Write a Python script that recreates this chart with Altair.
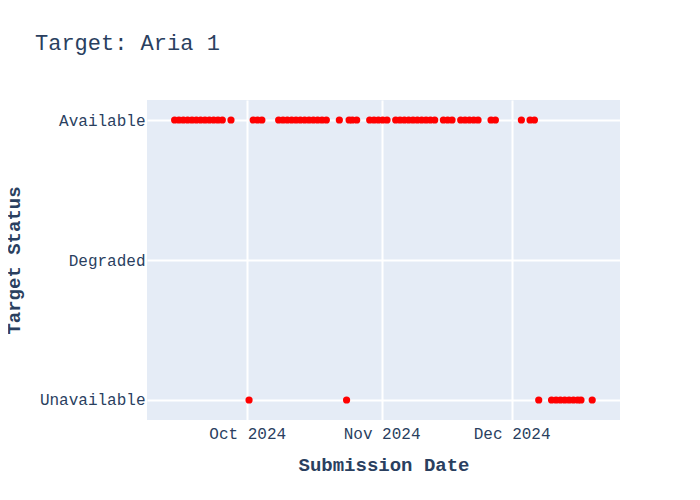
import altair as alt
import pandas as pd

statuses = ["Available", "Degraded", "Unavailable"]

available_dates = [
    "2024-09-14 06:00", "2024-09-15 06:00", "2024-09-16 06:00", "2024-09-17 06:00",
    "2024-09-18 06:00", "2024-09-19 06:00", "2024-09-20 06:00", "2024-09-21 06:00",
    "2024-09-22 06:00", "2024-09-23 06:00", "2024-09-24 06:00", "2024-09-25 06:00",
    "2024-09-27 06:00",
    "2024-10-02 09:00", "2024-10-03 09:00", "2024-10-04 09:00",
    "2024-10-08 06:00", "2024-10-09 06:00", "2024-10-10 06:00", "2024-10-11 06:00",
    "2024-10-12 06:00", "2024-10-13 06:00", "2024-10-14 06:00", "2024-10-15 06:00",
    "2024-10-16 06:00", "2024-10-17 06:00", "2024-10-18 06:00", "2024-10-19 06:00",
    "2024-10-22 06:00",
    "2024-10-24 12:00", "2024-10-25 06:00", "2024-10-26 06:00",
    "2024-10-29 06:00", "2024-10-30 06:00", "2024-10-31 06:00", "2024-11-01 06:00",
    "2024-11-02 06:00",
    "2024-11-04 06:00", "2024-11-05 06:00", "2024-11-06 06:00", "2024-11-07 06:00",
    "2024-11-08 06:00", "2024-11-09 06:00", "2024-11-10 06:00", "2024-11-11 06:00",
    "2024-11-12 06:00", "2024-11-13 06:00",
    "2024-11-15 06:00", "2024-11-16 06:00", "2024-11-17 06:00",
    "2024-11-19 06:00", "2024-11-20 06:00", "2024-11-21 06:00", "2024-11-22 06:00",
    "2024-11-23 06:00",
    "2024-11-26 06:00", "2024-11-27 06:00",
    "2024-12-03 06:00",
    "2024-12-05 06:00", "2024-12-06 06:00",
]

unavailable_dates = [
    "2024-10-01 10:00", "2024-10-23 22:00",
    "2024-12-07 06:00",
    "2024-12-10 05:00", "2024-12-11 06:00", "2024-12-12 06:00", "2024-12-13 06:00",
    "2024-12-14 06:00", "2024-12-15 06:00", "2024-12-16 06:00", "2024-12-17 00:00",
    "2024-12-19 14:00",
]

df = pd.DataFrame({
    "date": available_dates + unavailable_dates,
    "status": ["Available"] * len(available_dates) + ["Unavailable"] * len(unavailable_dates),
})

text_color = "#2a3f5f"
font = "Liberation Mono"

chart = alt.Chart(df).mark_circle(color="#ff0000", opacity=1, size=52).encode(
    x=alt.X(
        "date:T",
        title="Submission Date",
        scale=alt.Scale(domain=[
            alt.DateTime(year=2024, month=9, date=7, hours=21),
            alt.DateTime(year=2024, month=12, date=26),
        ]),
        axis=alt.Axis(
            values=[
                alt.DateTime(year=2024, month=10, date=1),
                alt.DateTime(year=2024, month=11, date=1),
                alt.DateTime(year=2024, month=12, date=1),
            ],
            format="%b %Y",
            labelFontSize=16, labelFont=font, labelColor=text_color,
            labelPadding=5, ticks=False, domain=False,
            grid=True, gridColor="white", gridWidth=2,
            titleFontSize=19, titleFont=font, titleColor=text_color, titleFontWeight="bold",
            titleY=44, titleBaseline="middle",
        ),
    ),
    y=alt.Y(
        "status:N",
        title="Target Status",
        scale=alt.Scale(type="point", domain=statuses, padding=0.143),
        axis=alt.Axis(
            labelFontSize=16, labelFont=font, labelColor=text_color,
            labelPadding=2, ticks=False, domain=False,
            grid=True, gridColor="white", gridWidth=2,
            titleFontSize=19, titleFont=font, titleColor=text_color, titleFontWeight="bold",
            titleX=-134, titleY=160, titleAngle=-90, titleAlign="center", titleBaseline="middle",
        ),
    ),
).properties(
    width=473,
    height=320,
    title=alt.TitleParams(
        "Target: Aria 1", anchor="start", frame="group", dx=-112, offset=28,
        baseline="alphabetic",
        fontSize=22, font=font, color=text_color, fontWeight="normal",
    ),
    autosize=alt.AutoSizeParams(type="none"),
    padding={"left": 139, "top": 92, "right": 72, "bottom": 72},
).configure(
    background="white",
    view=alt.ViewConfig(fill="#e5ecf6", stroke="transparent", strokeWidth=0),
)

chart.save("out.html", embed_options={"renderer": "svg", "actions": False})
